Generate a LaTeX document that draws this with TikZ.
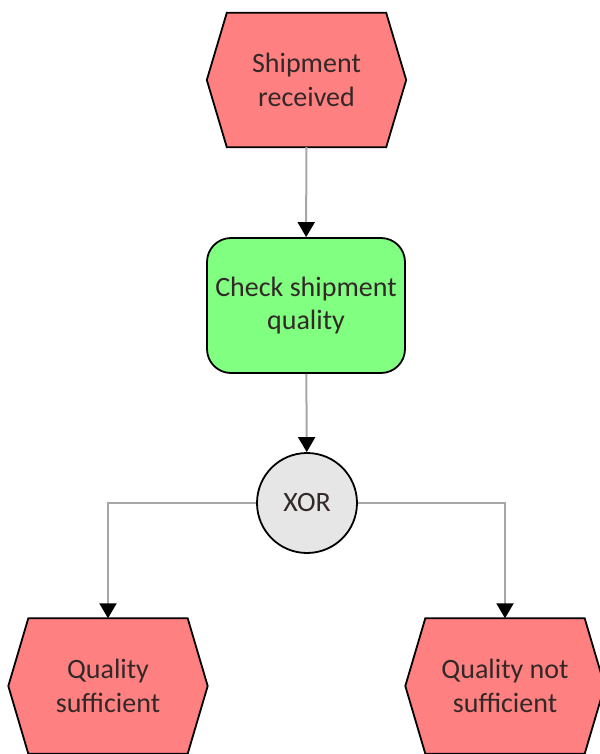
\documentclass[tikz,border=0pt]{standalone}
\usepackage{fontspec}
\setmainfont{Carlito}
\usetikzlibrary{arrows.meta,backgrounds}
\definecolor{evred}{RGB}{255,128,128}
\definecolor{fngreen}{RGB}{128,255,128}
\definecolor{xorgray}{RGB}{230,230,230}
\definecolor{conngray}{RGB}{166,166,166}
\definecolor{txt}{RGB}{51,40,40}
\tikzset{
  lbl/.style={text=txt, align=center, font=\fontsize{28}{33.5}\selectfont, inner sep=0pt},
  evbox/.style={lbl, minimum width=199pt, minimum height=134pt},
  hexline/.style={draw=black, fill=evred, line width=1.8pt, line join=miter},
  fnbox/.style={lbl, draw=black, fill=fngreen, line width=1.8pt, rounded corners=24pt,
    minimum width=198pt, minimum height=135pt},
  xorbox/.style={lbl, circle, draw=black, fill=xorgray, line width=1.8pt, minimum size=100pt},
  conn/.style={draw=conngray, line width=2pt,
    -{Triangle[black, width=17pt, length=15pt]}}
}
\newcommand{\hexfor}[1]{%
  \path[hexline] (#1.west) -- ([xshift=20pt]#1.north west) -- ([xshift=-20pt]#1.north east)
    -- (#1.east) -- ([xshift=-20pt]#1.south east) -- ([xshift=20pt]#1.south west) -- cycle;}
\begin{document}
\begin{tikzpicture}[x=1pt,y=-1pt]
\useasboundingbox (0,0) rectangle (599,754);
\clip (0,0) rectangle (599,754);
\node[evbox] (s1) at (306.5,80) {Shipment\\received};
\node[fnbox] (f1) at (306,305.5) {Check shipment\\quality};
\node[xorbox] (x1) at (307,503) {XOR};
\node[evbox, minimum height=135pt] (e1) at (108,686) {Quality\\sufficient};
\node[evbox, minimum height=135pt] (e2) at (505,686) {Quality not\\sufficient};
\begin{scope}[on background layer]
\hexfor{s1}
\hexfor{e1}
\hexfor{e2}
\end{scope}
\draw[conn] (s1) -- (f1);
\draw[conn] (f1) -- (x1);
\draw[conn] (x1.west) -| (e1.north);
\draw[conn] (x1.east) -| (e2.north);
\end{tikzpicture}
\end{document}
